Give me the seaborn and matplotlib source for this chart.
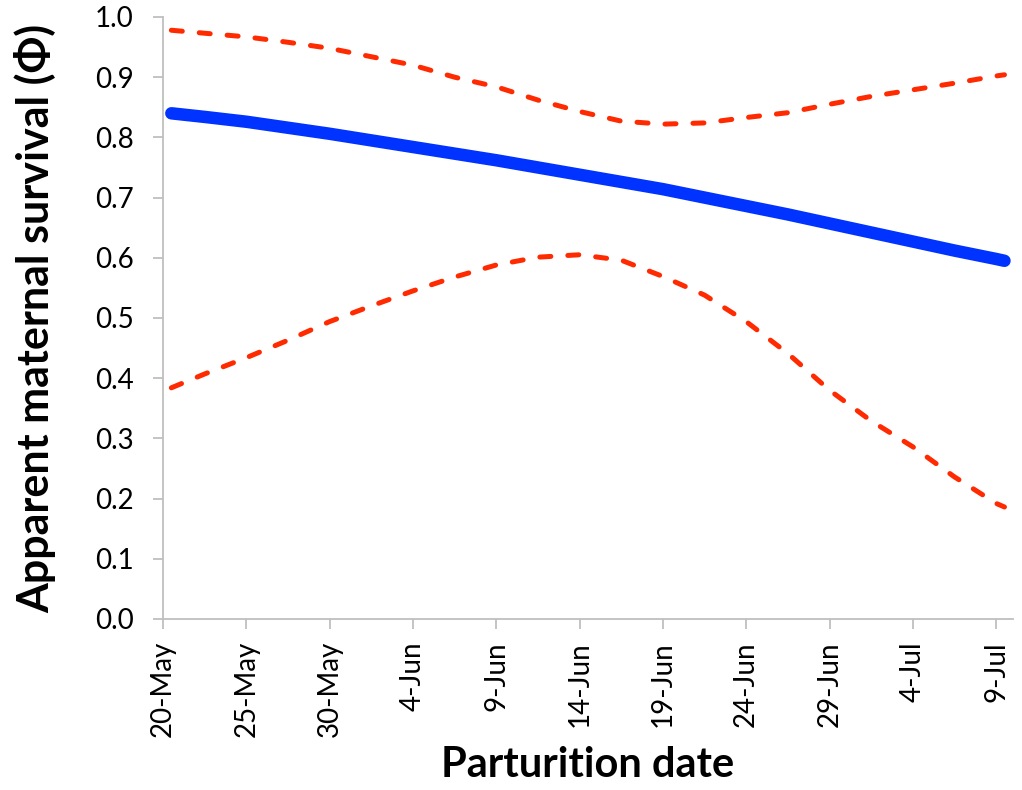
import matplotlib
matplotlib.use("Agg")
import matplotlib.pyplot as plt
import seaborn as sns
import pandas as pd

# Days after 20-May (day centres), with survival estimate and 95% CI bounds
days = [0.5, 2.5, 5, 7.5, 10, 12.5, 15, 17.5, 20, 22.5, 25, 27.5,
        30, 32.5, 35, 37.5, 40, 42.5, 45, 47.5, 50, 50.5]
phi = [0.840, 0.834, 0.826, 0.816, 0.806, 0.795, 0.784, 0.773, 0.762, 0.750,
       0.738, 0.726, 0.714, 0.700, 0.686, 0.672, 0.657, 0.642, 0.627, 0.612,
       0.598, 0.595]
upper = [0.978, 0.973, 0.967, 0.958, 0.948, 0.934, 0.920, 0.900, 0.884, 0.862,
         0.843, 0.827, 0.822, 0.824, 0.833, 0.841, 0.855, 0.868, 0.879, 0.890,
         0.902, 0.904]
lower = [0.384, 0.407, 0.434, 0.463, 0.494, 0.520, 0.545, 0.568, 0.588, 0.601,
         0.605, 0.596, 0.569, 0.538, 0.494, 0.441, 0.380, 0.329, 0.286, 0.236,
         0.192, 0.186]

tick_days = [0, 5, 10, 15, 20, 25, 30, 35, 40, 45, 50]
tick_labels = ["20-May", "25-May", "30-May", "4-Jun", "9-Jun", "14-Jun",
               "19-Jun", "24-Jun", "29-Jun", "4-Jul", "9-Jul"]
y_ticks = [0.0, 0.1, 0.2, 0.3, 0.4, 0.5, 0.6, 0.7, 0.8, 0.9, 1.0]

df = pd.DataFrame({"day": days, "phi": phi, "upper": upper, "lower": lower})

sns.set_style("white")
plt.rcParams["font.family"] = ["Lato", "DejaVu Sans"]
plt.rcParams["text.color"] = "black"
plt.rcParams["axes.labelcolor"] = "black"
plt.rcParams["xtick.color"] = "black"
plt.rcParams["ytick.color"] = "black"

fig = plt.figure(figsize=(10.22, 7.9), dpi=100)
ax = fig.add_axes([0.1595, 0.2165, 0.8315, 0.762])

red = "#FF2A00"
blue = "#0033FF"
for col in ["upper", "lower"]:
    sns.lineplot(data=df, x="day", y=col, ax=ax, color=red, linewidth=3.6,
                 dashes=False, solid_capstyle="round")
for line in ax.get_lines():
    line.set_dashes((2.2, 3.4))
    line.set_dash_capstyle("round")
sns.lineplot(data=df, x="day", y="phi", ax=ax, color=blue, linewidth=9,
             solid_capstyle="round")

ax.set_xlim(0, 51)
ax.set_ylim(0, 1.0)
ax.set_xticks(tick_days)
ax.set_xticklabels(tick_labels, rotation=90, fontsize=20)
ax.set_yticks(y_ticks)
ax.set_yticklabels([f"{v:.1f}" for v in y_ticks], fontsize=20)

spine_col = "#BFBFBF"
for side in ["top", "right"]:
    ax.spines[side].set_visible(False)
for side in ["left", "bottom"]:
    ax.spines[side].set_color(spine_col)
    ax.spines[side].set_linewidth(1.3)
ax.tick_params(axis="x", direction="out", length=7, width=1.3, color=spine_col,
               labelcolor="black", pad=9, bottom=True)
ax.tick_params(axis="y", direction="out", length=7, width=1.3, color=spine_col,
               labelcolor="black", pad=14, left=True)

ax.set_xlabel("Parturition date", fontsize=30, fontweight="bold", labelpad=6)
ax.set_ylabel("Apparent maternal survival (Φ)", fontsize=31, fontweight="bold",
              labelpad=28)

fig.savefig("out.png", dpi=100)
